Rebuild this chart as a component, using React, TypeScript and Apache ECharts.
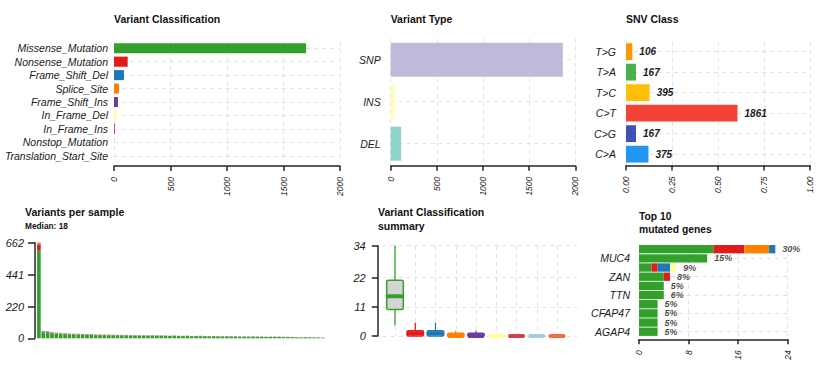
import React, { useEffect, useRef } from 'react';
import * as echarts from 'echarts';

const FONT = '"Liberation Sans", Arial, Helvetica, sans-serif';

// Variant classification
const vcNames = ['Missense_Mutation', 'Nonsense_Mutation', 'Frame_Shift_Del', 'Splice_Site', 'Frame_Shift_Ins', 'In_Frame_Del', 'In_Frame_Ins', 'Nonstop_Mutation', 'Translation_Start_Site'];
const vcCounts = [1700, 121, 88, 44, 35, 25, 8, 1, 0];
const vcColors = ['#33A02C', '#E31A1C', '#1F78B4', '#FF7F00', '#6A3D9A', '#FFFF99', '#D53E4F', '#A6CEE3', '#F46D43'];

// Variant type
const vtNames = ['SNP', 'INS', 'DEL'];
const vtCounts = [1865, 43, 113];
const vtColors = ['#BEBADA', '#FFFFB3', '#8DD3C7'];

// SNV class
const snvNames = ['T>G', 'T>A', 'T>C', 'C>T', 'C>G', 'C>A'];
const snvCounts = [106, 167, 395, 1861, 167, 375];
const snvColors = ['#FF9800', '#4CAF50', '#FFC107', '#F44336', '#3F51B5', '#2196F3'];

// Variants per sample (stacked by classification), 66 samples sorted by total
const sampleMissense = [606, 40, 36, 34, 30, 29, 28, 27, 26, 25, 25, 24, 23, 22, 22, 21, 21, 20, 21, 20, 19, 19, 19, 18, 18, 17, 18, 17, 16, 16, 16, 16, 15, 15, 16, 14, 15, 14, 14, 13, 14, 13, 13, 13, 12, 12, 12, 11, 11, 11, 10, 10, 10, 9, 9, 9, 8, 8, 8, 7, 7, 7, 6, 6, 5, 4];
const sampleNonsense = [42, 3, 2, 3, 2, 3, 2, 2, 2, 2, 1, 2, 2, 1, 1, 2, 1, 1, 1, 1, 2, 1, 1, 1, 2, 1, 1, 1, 2, 1, 1, 1, 1, 1, 1, 1, 1, 1, 1, 1, 1, 1, 1, 1, 1, 1, 1, 1, 1, 1, 1, 1, 1, 1, 1, 1, 1, 1, 1, 1, 1, 1, 1, 1, 1, 1];
const sampleFrameShiftDel = [4, 5, 8, 3, 3, 2, 3, 2, 2, 2, 2, 1, 2, 2, 2, 1, 2, 2, 1, 1, 1, 1, 2, 1, 1, 1, 1, 1, 1, 1, 0, 1, 1, 1, 0, 1, 0, 1, 1, 1, 0, 1, 0, 1, 0, 1, 0, 1, 0, 1, 0, 1, 0, 1, 0, 1, 0, 1, 0, 1, 0, 1, 0, 0, 1, 0];
const sampleSplice = [8, 2, 1, 2, 2, 1, 1, 1, 1, 1, 1, 1, 1, 1, 1, 1, 0, 1, 1, 0, 1, 1, 0, 1, 0, 1, 0, 0, 1, 0, 1, 0, 1, 0, 0, 0, 1, 0, 0, 0, 0, 0, 1, 0, 0, 0, 0, 0, 1, 0, 0, 0, 0, 0, 1, 0, 0, 0, 0, 0, 0, 0, 0, 0, 0, 0];
const sampleFrameShiftIns = [2, 1, 2, 1, 2, 1, 1, 1, 1, 1, 1, 1, 1, 1, 0, 1, 1, 1, 0, 1, 1, 1, 0, 1, 0, 1, 0, 1, 0, 1, 0, 1, 0, 0, 1, 0, 0, 1, 0, 0, 1, 0, 0, 0, 1, 0, 0, 0, 0, 0, 1, 0, 0, 0, 0, 0, 1, 0, 0, 0, 0, 0, 1, 0, 0, 0];
const sampleInFrameDel = [0, 1, 1, 1, 1, 1, 1, 1, 1, 1, 1, 1, 0, 1, 1, 0, 1, 0, 1, 0, 0, 0, 1, 0, 1, 0, 0, 0, 0, 0, 1, 0, 0, 1, 0, 1, 0, 0, 0, 0, 0, 0, 0, 0, 0, 0, 1, 0, 0, 0, 0, 0, 1, 0, 0, 0, 0, 0, 1, 0, 1, 0, 0, 1, 0, 0];
const sampleInFrameIns = [0, 0, 0, 0, 0, 1, 0, 0, 0, 0, 0, 0, 0, 0, 0, 0, 0, 0, 0, 1, 0, 0, 0, 0, 0, 0, 1, 0, 0, 0, 0, 0, 0, 0, 0, 0, 0, 0, 0, 1, 0, 0, 0, 0, 0, 0, 0, 0, 0, 0, 0, 0, 0, 0, 0, 0, 0, 0, 0, 0, 0, 0, 0, 0, 0, 0];
const sampleNonstop = [0, 0, 0, 0, 0, 0, 0, 0, 0, 0, 0, 0, 0, 0, 0, 0, 0, 0, 0, 0, 0, 0, 0, 0, 0, 0, 0, 0, 0, 0, 0, 0, 0, 0, 0, 0, 0, 0, 0, 0, 0, 0, 0, 0, 0, 0, 0, 0, 0, 0, 0, 0, 0, 0, 0, 0, 0, 0, 0, 0, 0, 0, 0, 0, 0, 1];
const sampleTicks = [0, 220, 441, 662];

// Variant classification summary: [min, q1, median, q3, max]
const boxStats = [
  [4, 10, 15, 21, 34],
  [0, 0, 1, 2, 5],
  [0, 0, 1, 2, 5],
  [0, 0, 0, 1, 2],
  [0, 0, 0, 1, 2],
  [0, 0, 0, 0, 1],
  [0, 0, 0, 0, 0],
  [0, 0, 0, 0, 0],
  [0, 0, 0, 0, 0],
];
const boxTicks = [0, 11, 22, 34];

// Top 10 mutated genes
const topGenes = ['TP53', 'MUC4', 'KMT2D', 'ZAN', 'LRP1B', 'TTN', 'FLG', 'CFAP47', 'OBSCN', 'AGAP4'];
const topMissense = [12, 11, 2, 4, 4, 4, 3, 3, 3, 3];
const topNonsense = [5, 0, 1, 1, 0, 0, 0, 0, 0, 0];
const topSplice = [4, 0, 0, 0, 0, 0, 0, 0, 0, 0];
const topFrameShiftDel = [1, 0, 2, 0, 0, 0, 0, 0, 0, 0];
const topInFrameDel = [0, 0, 1, 0, 0, 0, 0, 0, 0, 0];
const topPercent = ['30%', '15%', '9%', '8%', '5%', '6%', '5%', '5%', '5%', '5%'];

const AXIS_COLOR = '#262626';
const GRID_LINE = { show: true, lineStyle: { color: '#e2e2e2', type: [4, 4] as any, width: 1 } };
const TXT = '#1a1a1a';

function valueX(gridIndex: number, max: number, interval: number, offset: number, fmt: (v: number) => string) {
  return {
    type: 'value', gridIndex, min: 0, max, interval, offset,
    axisLine: { show: true, lineStyle: { color: AXIS_COLOR, width: 1.5 } },
    axisTick: { show: true, length: 5, lineStyle: { color: AXIS_COLOR, width: 1.5 } },
    axisLabel: { rotate: 90, fontSize: 8.5, fontStyle: 'italic', color: TXT, margin: 11, fontFamily: FONT, formatter: fmt },
    splitLine: GRID_LINE,
  };
}

function catY(gridIndex: number, data: string[], margin: number, interval: any = 0) {
  return {
    type: 'category', gridIndex, data, inverse: true,
    axisLine: { show: false }, axisTick: { show: false },
    axisLabel: { fontSize: 10.5, fontStyle: 'italic', color: TXT, margin, fontFamily: FONT, interval },
    splitLine: { ...GRID_LINE, alignWithLabel: true },
  };
}

function txt(x: number, y: number, text: string, size: number) {
  return {
    type: 'text', x, y,
    style: { text, font: `bold ${size}px ${FONT}`, fill: '#111', verticalAlign: 'middle', align: 'left' },
  };
}

const plain = (v: number) => String(v);

export default function App() {
  const ref = useRef<HTMLDivElement>(null);
  useEffect(() => {
    if (!ref.current) return;
    const chart = echarts.init(ref.current, null, { renderer: 'svg' });
    const snvTotal = snvCounts.reduce((a, b) => a + b, 0);
    const sampleIds = sampleMissense.map((_, i) => 'S' + (i + 1));
    const sampleSeries = [sampleMissense, sampleNonsense, sampleFrameShiftDel, sampleSplice, sampleFrameShiftIns, sampleInFrameDel, sampleInFrameIns, sampleNonstop];
    const sampleColorIdx = [0, 1, 2, 3, 4, 5, 6, 7];
    const topSeries = [topMissense, topNonsense, topSplice, topFrameShiftDel, topInFrameDel];
    const topColorIdx = [0, 1, 3, 2, 5];
    const topTotals = topGenes.map((_, i) => topSeries.reduce((s, arr) => s + arr[i], 0));

    const option: any = {
      animation: false,
      backgroundColor: '#ffffff',
      textStyle: { fontFamily: FONT },
      grid: [
        { left: 114, top: 41.5, width: 226, height: 121 },
        { left: 390.7, top: 38.7, width: 184.6, height: 126 },
        { left: 626, top: 41.4, width: 184, height: 123 },
        { left: 36.7, top: 242.7, width: 288.3, height: 95.6 },
        { left: 374.75, top: 245.7, width: 202.5, height: 90.3 },
        { left: 639, top: 244.6, width: 148.7, height: 91.7 },
      ],
      xAxis: [
        valueX(0, 2000, 500, 3.5, plain),
        valueX(1, 2000, 500, 1, plain),
        valueX(2, 1, 0.25, 1, (v: number) => v.toFixed(2)),
        {
          type: 'category', gridIndex: 3, data: sampleIds, boundaryGap: true,
          axisLine: { show: false }, axisTick: { show: false }, axisLabel: { show: false }, splitLine: { show: false },
        },
        {
          type: 'value', gridIndex: 4, min: 0, max: 10, interval: 1,
          axisLine: { show: false }, axisTick: { show: false }, axisLabel: { show: false },
          splitLine: { ...GRID_LINE, showMinLine: false, showMaxLine: false },
        },
        valueX(5, 24, 8, 3, plain),
      ],
      yAxis: [
        catY(0, vcNames, 6),
        catY(1, vtNames, 10),
        catY(2, snvNames, 10),
        {
          type: 'value', gridIndex: 3, min: 0, max: 662, offset: 1.7,
          axisLine: { show: true, lineStyle: { color: AXIS_COLOR, width: 1.5 } },
          axisTick: { show: true, length: 7, customValues: sampleTicks, lineStyle: { color: AXIS_COLOR, width: 1.5 } },
          axisLabel: { customValues: sampleTicks, fontSize: 11, fontStyle: 'italic', color: TXT, margin: 11, fontFamily: FONT },
          splitLine: { show: false },
        },
        {
          type: 'value', gridIndex: 4, min: 0, max: 34, offset: -3,
          axisLine: { show: true, lineStyle: { color: AXIS_COLOR, width: 1.5 } },
          axisTick: { show: true, length: 6, customValues: boxTicks, lineStyle: { color: AXIS_COLOR, width: 1.5 } },
          axisLabel: { customValues: boxTicks, fontSize: 11, fontStyle: 'italic', color: TXT, margin: 12, fontFamily: FONT },
          splitLine: GRID_LINE,
        },
        catY(5, topGenes, 9, (index: number) => index % 2 === 1),
      ],
      graphic: [
        txt(114, 19, 'Variant Classification', 10.5),
        txt(390.7, 19, 'Variant Type', 10.5),
        txt(626, 19, 'SNV Class', 10.5),
        txt(25, 212, 'Variants per sample', 10.5),
        txt(25, 226, 'Median: 18', 8.3),
        txt(378, 212, 'Variant Classification', 10.5),
        txt(378, 225.5, 'summary', 10.5),
        txt(639, 216, 'Top 10', 10.3),
        txt(639, 229.5, 'mutated genes', 10.3),
      ],
      series: [
        {
          type: 'bar', xAxisIndex: 0, yAxisIndex: 0, barCategoryGap: '25%',
          data: vcCounts.map((v, i) => ({ value: v, itemStyle: { color: vcColors[i] } })),
        },
        {
          type: 'bar', xAxisIndex: 1, yAxisIndex: 1, barCategoryGap: '19%',
          data: vtCounts.map((v, i) => ({ value: v, itemStyle: { color: vtColors[i] } })),
        },
        {
          type: 'bar', xAxisIndex: 2, yAxisIndex: 2, barCategoryGap: '18%',
          data: snvCounts.map((v, i) => ({ value: v / snvTotal, itemStyle: { color: snvColors[i] } })),
          label: {
            show: true, position: 'right', distance: 7, fontSize: 10, fontWeight: 'bold', fontStyle: 'italic',
            color: TXT, fontFamily: FONT, formatter: (p: any) => String(snvCounts[p.dataIndex]),
          },
        },
        ...sampleSeries.map((arr, k) => ({
          type: 'bar', xAxisIndex: 3, yAxisIndex: 3, stack: 'vps', barCategoryGap: '17%',
          name: vcNames[sampleColorIdx[k]],
          itemStyle: { color: vcColors[sampleColorIdx[k]] },
          data: arr,
        })),
        {
          type: 'custom', xAxisIndex: 4, yAxisIndex: 4,
          data: boxStats.map((s, i) => [i + 1, ...s]),
          renderItem: (params: any, api: any) => {
            const x = api.value(0);
            const lo = api.coord([x, api.value(1)]);
            const q1 = api.coord([x, api.value(2)]);
            const md = api.coord([x, api.value(3)]);
            const q3 = api.coord([x, api.value(4)]);
            const hi = api.coord([x, api.value(5)]);
            const half = api.size([1, 0])[0] * 0.41;
            const color = vcColors[params.dataIndex];
            return {
              type: 'group',
              children: [
                { type: 'line', shape: { x1: lo[0], y1: lo[1], x2: q1[0], y2: q1[1] }, style: { stroke: color, lineWidth: 1.3 } },
                { type: 'line', shape: { x1: q3[0], y1: q3[1], x2: hi[0], y2: hi[1] }, style: { stroke: color, lineWidth: 1.3 } },
                { type: 'rect', shape: { x: q3[0] - half, y: q3[1], width: half * 2, height: q1[1] - q3[1], r: 1.5 }, style: { fill: '#d4d4d4', stroke: color, lineWidth: 1.5 } },
                { type: 'rect', shape: { x: md[0] - half, y: md[1] - 2, width: half * 2, height: 4, r: 1.5 }, style: { fill: color } },
              ],
            };
          },
        },
        ...topSeries.map((arr, k) => ({
          type: 'bar', xAxisIndex: 5, yAxisIndex: 5, stack: 'top', barCategoryGap: '9%',
          name: vcNames[topColorIdx[k]],
          itemStyle: { color: vcColors[topColorIdx[k]] },
          data: arr,
        })),
        {
          type: 'scatter', xAxisIndex: 5, yAxisIndex: 5, symbolSize: 0,
          data: topTotals.map((t, i) => [t, i]),
          label: {
            show: true, position: 'right', distance: 7, fontSize: 9, lineHeight: 9, fontWeight: 'bold', fontStyle: 'italic', color: TXT, fontFamily: FONT,
            formatter: (p: any) => topPercent[p.dataIndex],
          },
        },
      ],
    };
    chart.setOption(option);
    return () => chart.dispose();
  }, []);
  return <div ref={ref} style={{ position: 'absolute', left: 0, top: 0, width: 823, height: 378, background: '#fff' }} />;
}
